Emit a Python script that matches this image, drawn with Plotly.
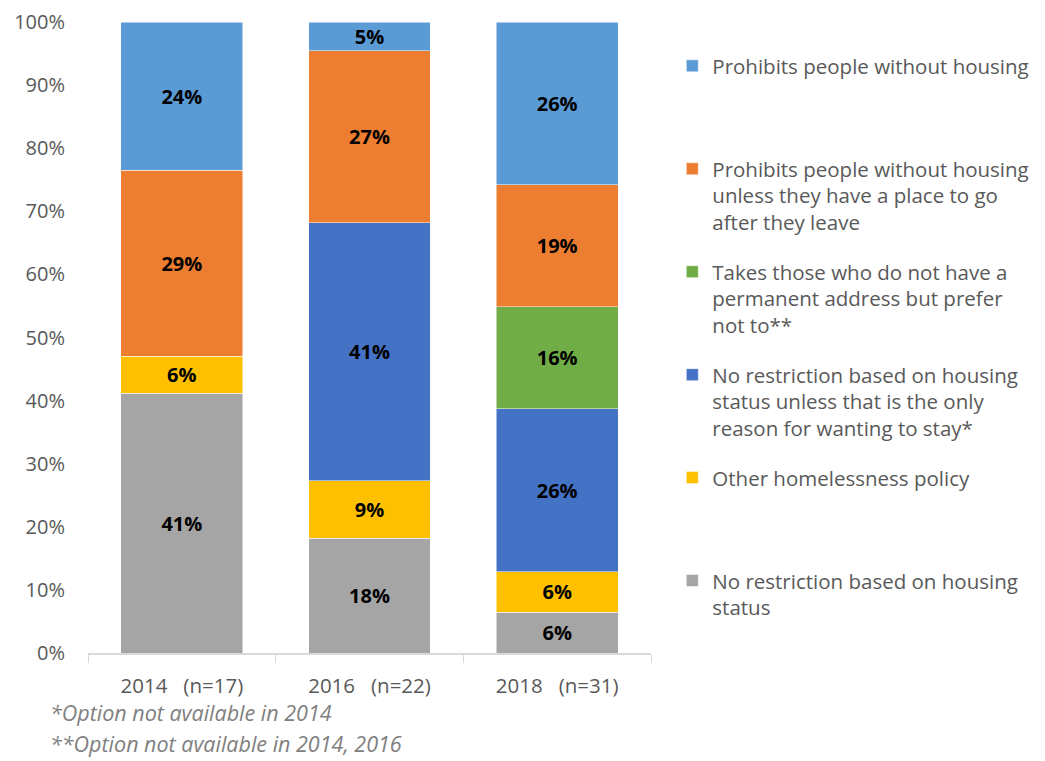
import plotly.graph_objects as go

# Survey years (x categories)
years = ["2014   (n=17)", "2016   (n=22)", "2018   (n=31)"]

# y-axis ticks
y_ticks = [0, 10, 20, 30, 40, 50, 60, 70, 80, 90, 100]
y_tick_labels = ["0%", "10%", "20%", "30%", "40%", "50%", "60%", "70%", "80%", "90%", "100%"]

# Share of shelters by policy (%), bottom of stack first
no_restriction = [41.18, 18.18, 6.45]
other_policy = [5.88, 9.09, 6.45]
no_restriction_unless = [None, 40.91, 25.81]
takes_those = [None, None, 16.13]
prohibits_unless = [29.41, 27.27, 19.35]
prohibits = [23.53, 4.55, 25.81]

PAD = "<br>\u00a0"  # blank lines so every legend entry has the same height

series = [
    ("No restriction based on housing<br>status" + PAD, no_restriction, "#A5A5A5"),
    ("Other homelessness policy" + PAD * 2, other_policy, "#FFC000"),
    ("No restriction based on housing<br>status unless that is the only<br>reason for wanting to stay*",
     no_restriction_unless, "#4472C4"),
    ("Takes those who do not have a<br>permanent address but prefer<br>not to**", takes_those, "#70AD47"),
    ("Prohibits people without housing<br>unless they have a place to go<br>after they leave",
     prohibits_unless, "#ED7D31"),
    ("Prohibits people without housing" + PAD * 2, prohibits, "#5B9BD5"),
]

font_family = "'Open Sans', sans-serif"

fig = go.Figure()
n = len(series)
for i, (name, vals, color) in enumerate(series):
    fig.add_trace(go.Bar(
        x=years,
        y=vals,
        name=name,
        legendgroup=str(i),
        legendrank=n - i,
        marker=dict(color=color, line=dict(color="white", width=0.5)),
        texttemplate="%{y:.0f}%",
        textposition="inside",
        insidetextanchor="middle",
        textangle=0,
        textfont=dict(family=font_family, size=20, color="black", weight="bold"),
        hoverinfo="skip",
    ))

# the page body adds an 8px offset, so the figure is 8px smaller than the window
fig.update_layout(
    barmode="stack",
    bargap=0.35,
    width=1037,
    height=753,
    margin=dict(l=80, r=393, t=14, b=108),
    plot_bgcolor="white",
    paper_bgcolor="white",
    font=dict(family=font_family, color="#595959"),
    uniformtext=dict(minsize=20, mode="show"),
    xaxis=dict(
        automargin=False,
        showline=True,
        linecolor="#D9D9D9",
        linewidth=1.5,
        ticks="outside",
        tickson="boundaries",
        tickcolor="#D9D9D9",
        ticklen=8,
        ticklabelstandoff=14,
        tickfont=dict(size=20.5, color="#595959"),
        showgrid=False,
    ),
    yaxis=dict(
        automargin=False,
        range=[0, 100],
        tickvals=y_ticks,
        ticktext=y_tick_labels,
        showgrid=False,
        showline=False,
        zeroline=False,
        tickfont=dict(size=20, color="#595959"),
        ticklabelstandoff=22,
    ),
    legend=dict(
        x=1.036,
        xanchor="left",
        y=0.962,
        yanchor="top",
        traceorder="grouped",
        tracegroupgap=20,
        valign="top",
        font=dict(size=20.5, color="#595959"),
        itemwidth=30,
    ),
    annotations=[
        dict(text="<i>*Option not available in 2014</i>", xref="paper", yref="paper",
             x=-0.071, y=-0.094, xanchor="left", yanchor="middle", showarrow=False,
             font=dict(size=21.5, color="#808080")),
        dict(text="<i>**Option not available in 2014, 2016</i>", xref="paper", yref="paper",
             x=-0.071, y=-0.144, xanchor="left", yanchor="middle", showarrow=False,
             font=dict(size=21.5, color="#808080")),
    ],
)

fig.write_html("out.html")
